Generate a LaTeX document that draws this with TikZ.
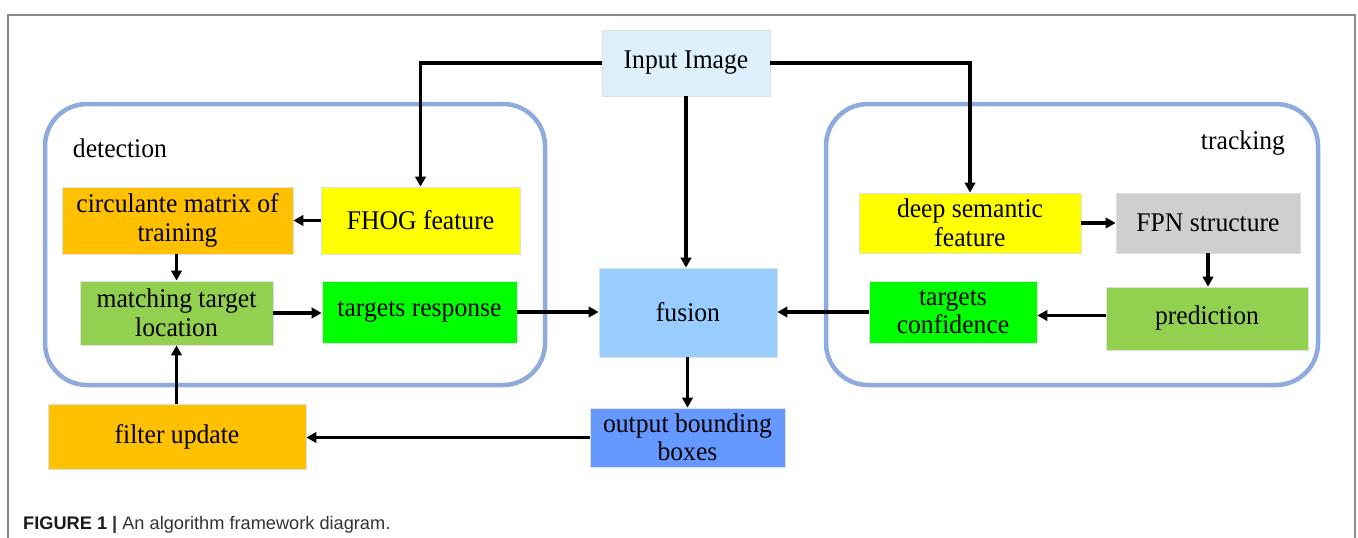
\documentclass[tikz,border=0pt]{standalone}
\usepackage{fontspec}
\setmainfont[FakeStretch=0.95]{Liberation Serif}
\newfontfamily\capfont{Liberation Sans}
\usetikzlibrary{arrows.meta}
\definecolor{inpblue}{HTML}{DDF0FB}
\definecolor{fusblue}{HTML}{99CCFF}
\definecolor{outblue}{HTML}{6699FF}
\definecolor{orangebox}{HTML}{FFC000}
\definecolor{yellowbox}{HTML}{FFFF00}
\definecolor{lightgreen}{HTML}{92D050}
\definecolor{brightgreen}{HTML}{00FF00}
\definecolor{graybox}{HTML}{D0CECE}
\definecolor{contblue}{HTML}{8FAADC}
\definecolor{framegray}{HTML}{8A8A8A}
\tikzset{
  blk/.style={rectangle, draw=black!12, line width=0.8pt, align=center, inner sep=2pt,
    font=\fontsize{27}{28.5}\selectfont},
  group/.style={draw=contblue, line width=4.5pt, rounded corners=42pt},
  grouplabel/.style={font=\fontsize{27}{29}\selectfont},
  flow/.style={line width=3.3pt, -{Triangle[length=10pt,width=10.5pt]}},
}
\begin{document}
\begin{tikzpicture}[x=1pt,y=-1pt]
\useasboundingbox (0,0) rectangle (1358,538);
\fill[white] (0,0) rectangle (1358,538);

% figure frame, open at the bottom
\draw[framegray, line width=1.5pt] (8,538) -- (8,15) -- (1355,15) -- (1355,538);

% group outlines
\draw[group] (45,104) rectangle (545,385);
\draw[group] (826,104) rectangle (1318,385);
\node[grouplabel] (detlbl) at (120,148) {detection};
\node[grouplabel] (trklbl) at (1243,143) {tracking};

% blocks
\node[blk, fill=inpblue, minimum width=168pt, minimum height=66pt] (inp) at (686,63) {Input Image};
\node[blk, fill=orangebox, minimum width=231pt, minimum height=67pt] (circ) at (177.5,220.5) {circulante matrix of\\training};
\node[blk, fill=yellowbox, minimum width=199pt, minimum height=67pt] (fhog) at (420.5,220.5) {FHOG feature};
\node[blk, fill=lightgreen, minimum width=193pt, minimum height=64pt] (match) at (176.5,313) {matching target\\location};
\node[blk, fill=brightgreen, minimum width=195pt, minimum height=62pt] (resp) at (419.5,312) {targets response};
\node[blk, fill=fusblue, minimum width=178pt, minimum height=89pt] (fusion) at (688,312.5) {fusion};
\node[blk, fill=outblue, minimum width=195pt, minimum height=59pt] (out) at (687.5,437.5) {output bounding\\boxes};
\node[blk, fill=orangebox, minimum width=258pt, minimum height=65pt] (filt) at (177,436.5) {filter update};
\node[blk, fill=yellowbox, minimum width=222pt, minimum height=60pt] (deep) at (970,223) {deep semantic\\feature};
\node[blk, fill=graybox, minimum width=184pt, minimum height=60pt] (fpn) at (1208,223) {FPN structure};
\node[blk, fill=brightgreen, minimum width=168pt, minimum height=62pt] (conf) at (953,312) {targets\\confidence};
\node[blk, fill=lightgreen, minimum width=202pt, minimum height=63pt] (pred) at (1207,318.5) {prediction};
\coordinate (predw) at ([yshift=3pt]pred.west);

% connectors
\draw[flow] (inp.west) -| (fhog.north);
\draw[flow] (inp.east) -| (deep.north);
\draw[flow] (inp.south) -- (inp.south |- fusion.north);
\draw[flow] (fhog.west) -- (circ.east);
\draw[flow] (circ.south -| match.north) -- (match.north);
\draw[flow] (match.east) -- (resp.west |- match.east);
\draw[flow] (resp.east) -- (fusion.west |- resp.east);
\draw[flow] (deep.east) -- (fpn.west);
\draw[flow] (fpn.south) -- (fpn.south |- pred.north);
\draw[flow] (predw) -- (conf.east |- predw);
\draw[flow] (conf.west) -- (fusion.east |- conf.west);
\draw[flow] (fusion.south -| out.north) -- (out.north);
\draw[flow] (out.west) -- (filt.east |- out.west);
\draw[flow] (filt.north -| match.south) -- (match.south);

% caption
\node[anchor=base west, inner sep=0pt, font=\capfont\fontsize{18.2}{22}\selectfont, text=black!80] (cap) at (23,529)
  {\textbf{\color{black!90}FIGURE 1} \textbf{|} An algorithm framework diagram.};
\end{tikzpicture}
\end{document}
